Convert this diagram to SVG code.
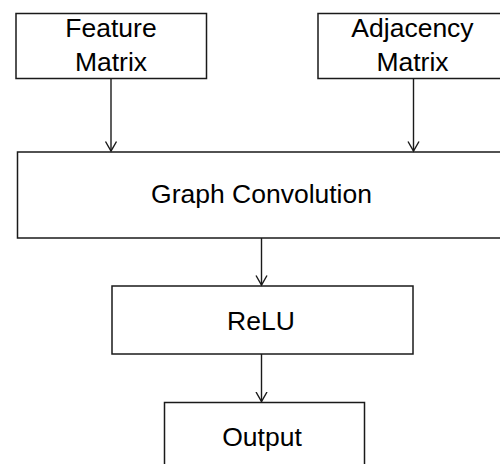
<svg xmlns="http://www.w3.org/2000/svg" width="500" height="464" viewBox="0 0 500 464">
  <style>
    .box { fill: #ffffff; stroke: #1a1a1a; stroke-width: 1.5; }
    .label { font-family: "Liberation Sans", Arial, sans-serif; font-size: 26.5px; fill: #000000; text-anchor: middle; }
    .edge { fill: none; stroke: #1a1a1a; stroke-width: 1.4; marker-end: url(#arrow); }
  </style>
  <defs>
    <marker id="arrow" markerUnits="userSpaceOnUse" markerWidth="14" markerHeight="14" refX="10" refY="6" orient="auto">
      <path d="M0.5,0.5 L10,6 L0.5,11.5" fill="none" stroke="#1a1a1a" stroke-width="1.4"/>
    </marker>
  </defs>
  <rect width="500" height="464" fill="#ffffff"/>

  <g id="feature-matrix">
    <rect class="box" x="16" y="13.5" width="190.5" height="65"/>
    <text class="label" x="111" y="37">Feature</text>
    <text class="label" x="111" y="71">Matrix</text>
  </g>

  <g id="adjacency-matrix">
    <rect class="box" x="318" y="13.5" width="200" height="65"/>
    <text class="label" x="412.5" y="37">Adjacency</text>
    <text class="label" x="412.5" y="71">Matrix</text>
  </g>

  <g id="graph-convolution">
    <rect class="box" x="17.5" y="152" width="500" height="86"/>
    <text class="label" x="261.5" y="203">Graph Convolution</text>
  </g>

  <g id="relu">
    <rect class="box" x="112" y="286" width="301" height="68"/>
    <text class="label" x="261" y="329.5">ReLU</text>
  </g>

  <g id="output">
    <rect class="box" x="164.5" y="402.5" width="200" height="80"/>
    <text class="label" x="262" y="446">Output</text>
  </g>

  <g id="connectors">
    <line class="edge" x1="111" y1="78.5" x2="111" y2="151"/>
    <line class="edge" x1="413.5" y1="78.5" x2="413.5" y2="151"/>
    <line class="edge" x1="261.5" y1="238" x2="261.5" y2="285"/>
    <line class="edge" x1="261.5" y1="354" x2="261.5" y2="401.5"/>
  </g>
</svg>
